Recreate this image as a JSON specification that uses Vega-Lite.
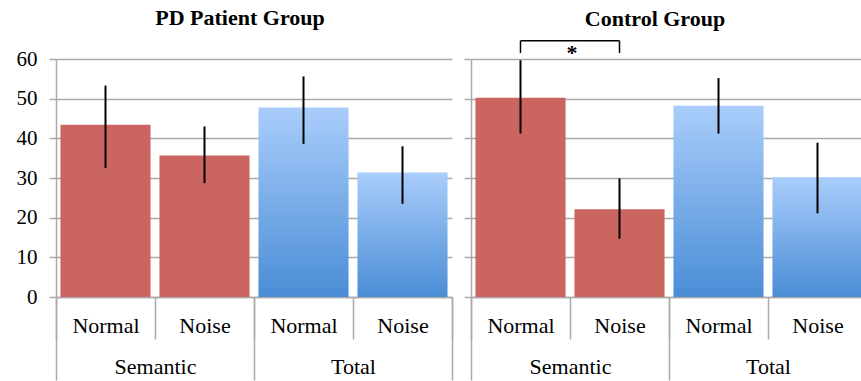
{
  "$schema": "https://vega.github.io/schema/vega-lite/v6.json",
  "background": "white",
  "padding": {"left": 16, "top": 7, "right": 0, "bottom": 0},
  "config": {
    "font": "Liberation Serif",
    "view": {"stroke": null},
    "concat": {"spacing": 10},
    "axis": {"labelFont": "Liberation Serif", "labelColor": "black", "labelFontSize": 22, "domainColor": "#AAAAAA", "domainWidth": 1.5, "tickColor": "#AAAAAA", "tickWidth": 1.5, "gridColor": "#AAAAAA", "gridWidth": 1.5}
  },
  "datasets": {
    "bars": [
      {"panel": "PD", "group": "Semantic", "cond": "Normal", "key": "Semantic Normal", "mean": 43.4, "lo": 32.5, "hi": 53.3},
      {"panel": "PD", "group": "Semantic", "cond": "Noise", "key": "Semantic Noise", "mean": 35.7, "lo": 28.7, "hi": 43.0},
      {"panel": "PD", "group": "Total", "cond": "Normal", "key": "Total Normal", "mean": 47.8, "lo": 38.6, "hi": 55.6},
      {"panel": "PD", "group": "Total", "cond": "Noise", "key": "Total Noise", "mean": 31.4, "lo": 23.5, "hi": 38.0},
      {"panel": "Control", "group": "Semantic", "cond": "Normal", "key": "Semantic Normal", "mean": 50.2, "lo": 41.2, "hi": 59.7},
      {"panel": "Control", "group": "Semantic", "cond": "Noise", "key": "Semantic Noise", "mean": 22.1, "lo": 14.7, "hi": 29.9},
      {"panel": "Control", "group": "Total", "cond": "Normal", "key": "Total Normal", "mean": 48.2, "lo": 41.2, "hi": 55.2},
      {"panel": "Control", "group": "Total", "cond": "Noise", "key": "Total Noise", "mean": 30.2, "lo": 21.1, "hi": 38.9}
    ],
    "bracketH": [{"from": "Semantic Normal", "to": "Semantic Noise", "level": 64.6}],
    "bracketV": [
      {"key": "Semantic Normal", "lo": 61.5, "hi": 64.6},
      {"key": "Semantic Noise", "lo": 61.5, "hi": 64.6}
    ],
    "star": [{"key": "Semantic Normal", "level": 61.8, "label": "*"}]
  },
  "hconcat": [
    {
      "width": 396,
      "height": 238,
      "title": {"text": "PD Patient Group", "fontSize": 22, "fontWeight": "bold", "font": "Liberation Serif", "color": "black", "dx": -14, "offset": 18},
      "data": {"name": "bars"},
      "transform": [{"filter": "datum.panel === 'PD'"}],
      "layer": [
        {
          "layer": [
            {
              "transform": [{"filter": "datum.group === 'Semantic'"}],
              "mark": {"type": "bar", "color": "#CB655F", "width": {"band": 0.91}},
              "encoding": {
                "x": {"field": "key", "type": "nominal", "scale": {"domain": ["Semantic Normal", "Semantic Noise", "Total Normal", "Total Noise"], "paddingInner": 0, "paddingOuter": 0},
                  "axis": {"orient": "bottom", "title": null, "labelExpr": "split(datum.value, ' ')[1]", "labelAngle": 0, "tickBand": "extent", "tickSize": 42, "labelPadding": -24}},
                "y": {"field": "mean", "type": "quantitative", "scale": {"domain": [0, 60], "nice": false},
                  "axis": {"title": null, "values": [0, 10, 20, 30, 40, 50, 60], "grid": true, "tickSize": 7, "labelPadding": 12, "labelFontSize": 21}}
              }
            },
            {
              "transform": [{"filter": "datum.group === 'Total'"}],
              "mark": {"type": "bar", "width": {"band": 0.91}, "color": {"gradient": "linear", "x1": 0, "y1": 0, "x2": 0, "y2": 1, "stops": [{"offset": 0, "color": "#A9CDFB"}, {"offset": 1, "color": "#4A8DD6"}]}},
              "encoding": {
                "x": {"field": "key", "type": "nominal"},
                "y": {"field": "mean", "type": "quantitative",
                  "axis": {"title": null, "values": [0, 10, 20, 30, 40, 50, 60], "grid": true, "tickSize": 7, "labelPadding": 12, "labelFontSize": 21}}
              }
            },
            {
              "mark": {"type": "rule", "color": "black", "strokeWidth": 2},
              "encoding": {
                "x": {"field": "key", "type": "nominal"},
                "y": {"field": "lo", "type": "quantitative",
                  "axis": {"title": null, "values": [0, 10, 20, 30, 40, 50, 60], "grid": true, "tickSize": 7, "labelPadding": 12, "labelFontSize": 21}},
                "y2": {"field": "hi"}
              }
            }
          ]
        },
        {
          "mark": {"type": "bar", "opacity": 0},
          "encoding": {
            "x": {"field": "group", "type": "nominal", "scale": {"domain": ["Semantic", "Total"], "paddingInner": 0, "paddingOuter": 0},
              "axis": {"orient": "bottom", "title": null, "labelAngle": 0, "tickBand": "extent", "tickSize": 83, "labelPadding": -24, "domain": false}}
          }
        }
      ],
      "resolve": {"scale": {"x": "independent"}, "axis": {"x": "independent"}}
    },
    {
      "width": 396,
      "height": 238,
      "title": {"text": "Control Group", "fontSize": 22, "fontWeight": "bold", "font": "Liberation Serif", "color": "black", "dx": -14, "offset": 9},
      "data": {"name": "bars"},
      "layer": [
        {
          "layer": [
            {
              "transform": [{"filter": "datum.panel === 'Control' && datum.group === 'Semantic'"}],
              "mark": {"type": "bar", "color": "#CB655F", "width": {"band": 0.91}},
              "encoding": {
                "x": {"field": "key", "type": "nominal", "scale": {"domain": ["Semantic Normal", "Semantic Noise", "Total Normal", "Total Noise"], "paddingInner": 0, "paddingOuter": 0},
                  "axis": {"orient": "bottom", "title": null, "labelExpr": "split(datum.value, ' ')[1]", "labelAngle": 0, "tickBand": "extent", "tickSize": 42, "labelPadding": -24}},
                "y": {"field": "mean", "type": "quantitative", "scale": {"domain": [0, 60], "nice": false},
                  "axis": {"title": null, "values": [0, 10, 20, 30, 40, 50, 60], "grid": true, "tickSize": 7, "labels": false}}
              }
            },
            {
              "transform": [{"filter": "datum.panel === 'Control' && datum.group === 'Total'"}],
              "mark": {"type": "bar", "width": {"band": 0.91}, "color": {"gradient": "linear", "x1": 0, "y1": 0, "x2": 0, "y2": 1, "stops": [{"offset": 0, "color": "#A9CDFB"}, {"offset": 1, "color": "#4A8DD6"}]}},
              "encoding": {
                "x": {"field": "key", "type": "nominal"},
                "y": {"field": "mean", "type": "quantitative",
                  "axis": {"title": null, "values": [0, 10, 20, 30, 40, 50, 60], "grid": true, "tickSize": 7, "labels": false}}
              }
            },
            {
              "transform": [{"filter": "datum.panel === 'Control'"}],
              "mark": {"type": "rule", "color": "black", "strokeWidth": 2},
              "encoding": {
                "x": {"field": "key", "type": "nominal"},
                "y": {"field": "lo", "type": "quantitative",
                  "axis": {"title": null, "values": [0, 10, 20, 30, 40, 50, 60], "grid": true, "tickSize": 7, "labels": false}},
                "y2": {"field": "hi"}
              }
            },
            {
              "data": {"name": "bracketH"},
              "mark": {"type": "rule", "color": "black", "strokeWidth": 1.5},
              "encoding": {
                "x": {"field": "from", "type": "nominal"},
                "x2": {"field": "to"},
                "y": {"field": "level", "type": "quantitative",
                  "axis": {"title": null, "values": [0, 10, 20, 30, 40, 50, 60], "grid": true, "tickSize": 7, "labels": false}}
              }
            },
            {
              "data": {"name": "bracketV"},
              "mark": {"type": "rule", "color": "black", "strokeWidth": 1.5},
              "encoding": {
                "x": {"field": "key", "type": "nominal"},
                "y": {"field": "lo", "type": "quantitative",
                  "axis": {"title": null, "values": [0, 10, 20, 30, 40, 50, 60], "grid": true, "tickSize": 7, "labels": false}},
                "y2": {"field": "hi"}
              }
            },
            {
              "data": {"name": "star"},
              "mark": {"type": "text", "fontSize": 22, "fontWeight": "bold", "font": "Liberation Serif", "color": "black", "baseline": "middle", "dx": 2, "dy": 1},
              "encoding": {
                "x": {"field": "key", "type": "nominal", "bandPosition": 1},
                "y": {"field": "level", "type": "quantitative",
                  "axis": {"title": null, "values": [0, 10, 20, 30, 40, 50, 60], "grid": true, "tickSize": 7, "labels": false}},
                "text": {"field": "label"}
              }
            }
          ]
        },
        {
          "transform": [{"filter": "datum.panel === 'Control'"}],
          "mark": {"type": "bar", "opacity": 0},
          "encoding": {
            "x": {"field": "group", "type": "nominal", "scale": {"domain": ["Semantic", "Total"], "paddingInner": 0, "paddingOuter": 0},
              "axis": {"orient": "bottom", "title": null, "labelAngle": 0, "tickBand": "extent", "tickSize": 83, "labelPadding": -24, "domain": false}}
          }
        }
      ],
      "resolve": {"scale": {"x": "independent"}, "axis": {"x": "independent"}}
    }
  ]
}
